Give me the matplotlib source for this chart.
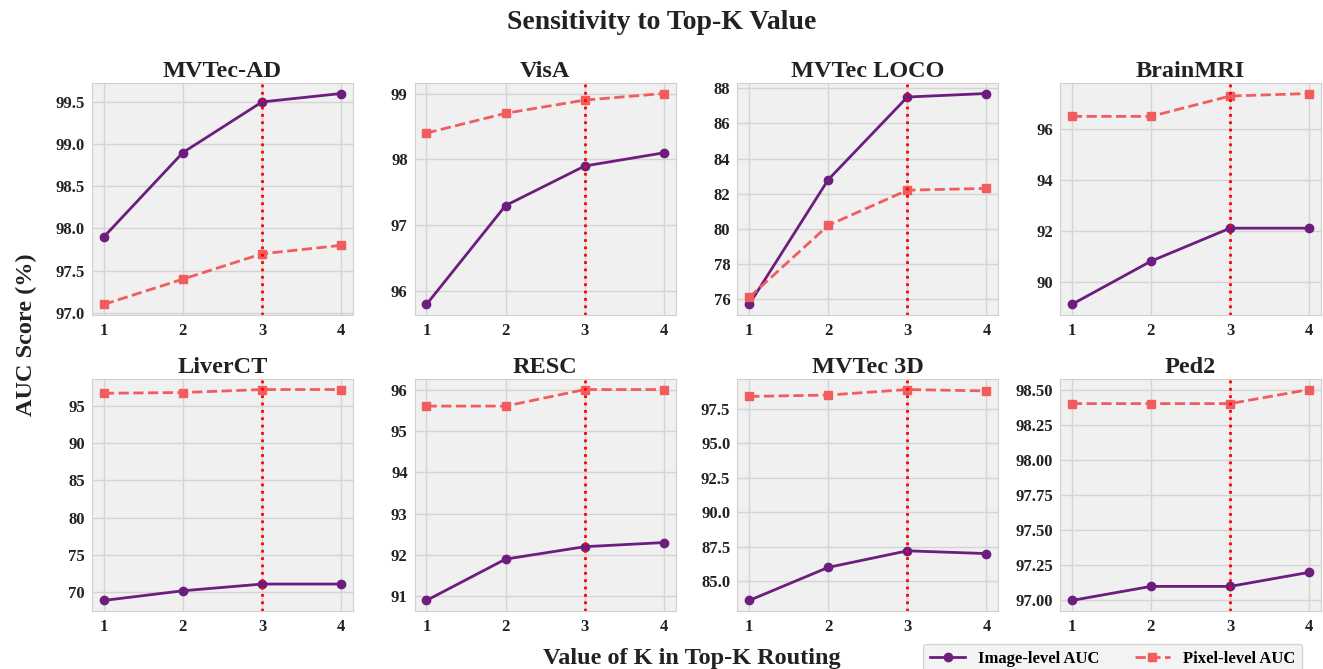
import matplotlib
import matplotlib.pyplot as plt
from matplotlib.ticker import MaxNLocator

matplotlib.use("Agg")

# Top-K values and per-dataset AUC scores
k_values = [1, 2, 3, 4]
datasets = ["MVTec-AD", "VisA", "MVTec LOCO", "BrainMRI",
            "LiverCT", "RESC", "MVTec 3D", "Ped2"]
image_auc = [
    [97.9, 98.9, 99.5, 99.6],
    [95.8, 97.3, 97.9, 98.1],
    [75.7, 82.8, 87.5, 87.7],
    [89.1, 90.8, 92.1, 92.1],
    [68.9, 70.2, 71.1, 71.1],
    [90.9, 91.9, 92.2, 92.3],
    [83.6, 86.0, 87.2, 87.0],
    [97.0, 97.1, 97.1, 97.2],
]
pixel_auc = [
    [97.1, 97.4, 97.7, 97.8],
    [98.4, 98.7, 98.9, 99.0],
    [76.1, 80.2, 82.2, 82.3],
    [96.5, 96.5, 97.3, 97.4],
    [96.7, 96.8, 97.2, 97.2],
    [95.6, 95.6, 96.0, 96.0],
    [98.4, 98.5, 98.9, 98.8],
    [98.4, 98.4, 98.4, 98.5],
]
best_k = 3

plt.rcParams.update({
    "font.family": ["Liberation Serif", "DejaVu Serif"],
    "font.weight": "bold",
    "axes.facecolor": "#f0f0f0",
    "axes.edgecolor": "#d0d0d0",
    "axes.grid": True,
    "grid.color": "#d4d4d4",
    "grid.linewidth": 1.0,
    "xtick.color": "#222222",
    "ytick.color": "#222222",
    "xtick.major.size": 0,
    "ytick.major.size": 0,
    "xtick.major.pad": 6,
    "ytick.major.pad": 5,
})

IMG_COLOR = "#6c1d7e"
PIX_COLOR = "#f25c5c"

fig, axes = plt.subplots(2, 4, figsize=(13.23, 6.69), dpi=100)
fig.subplots_adjust(left=0.0695, right=0.9985, bottom=0.0867, top=0.876,
                    wspace=0.236, hspace=0.276)

for ax, name, img, pix in zip(axes.flat, datasets, image_auc, pixel_auc):
    ax.plot(k_values, img, color=IMG_COLOR, marker="o", markersize=6,
            linewidth=2, label="Image-level AUC")
    ax.plot(k_values, pix, color=PIX_COLOR, marker="s", markersize=6,
            linewidth=2, linestyle="--", label="Pixel-level AUC")
    ax.axvline(best_k, color="red", linestyle=":", linewidth=2)
    ax.set_title(name, fontsize=17.5, fontweight="bold", color="#222222", pad=4)
    ax.set_xticks(k_values)
    ax.yaxis.set_major_locator(MaxNLocator(nbins=7, steps=[1, 2, 2.5, 5, 10]))
    ax.tick_params(labelsize=12)
    for lbl in ax.get_xticklabels() + ax.get_yticklabels():
        lbl.set_fontweight("bold")
    for s in ax.spines.values():
        s.set_color("#d0d0d0")

fig.suptitle("Sensitivity to Top-K Value", fontsize=20, fontweight="bold",
             color="#222222", y=0.985)
fig.supxlabel("Value of K in Top-K Routing", fontsize=17.5, fontweight="bold",
              color="#222222", x=0.523, y=0.0)
fig.supylabel("AUC Score (%)", fontsize=17.5, fontweight="bold",
              color="#222222", x=0.012, y=0.5)

handles, labels = axes[0, 0].get_legend_handles_labels()
fig.legend(handles, labels, loc="upper left", ncol=2, fontsize=12,
           bbox_to_anchor=(0.698, 0.0374), borderaxespad=0, frameon=True,
           edgecolor="#cccccc", columnspacing=2.1, handlelength=2.1,
           handletextpad=0.8)

fig.savefig("out.png", dpi=100)
plt.close(fig)
